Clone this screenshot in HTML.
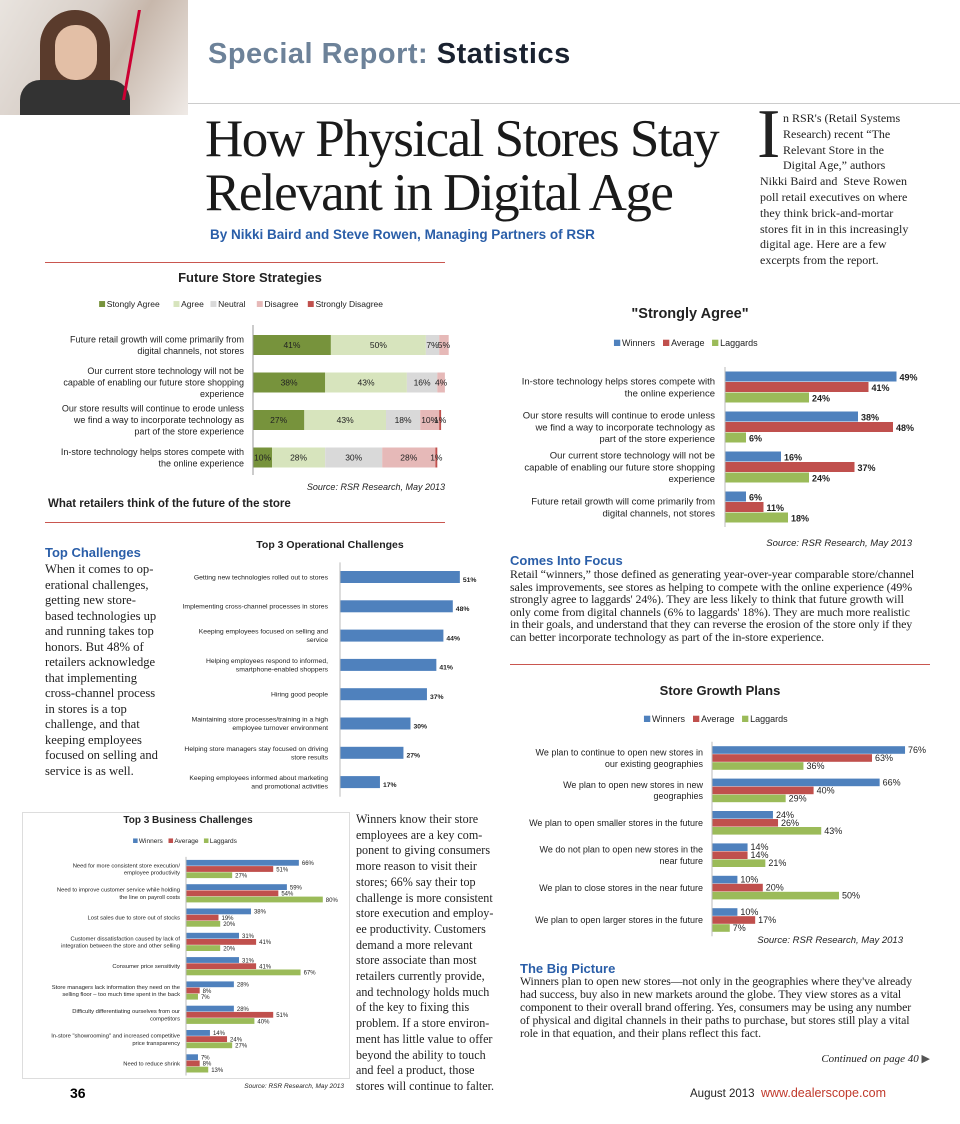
<!DOCTYPE html>
<html><head><meta charset="utf-8">
<style>
body{margin:0;background:#fff}
#page{position:relative;width:960px;height:1124px;overflow:hidden;background:#fff;font-family:"Liberation Sans",sans-serif}
.abs{position:absolute}
.serif{font-family:"Liberation Serif",serif;color:#222;white-space:nowrap}
.hd{font-family:"Liberation Sans",sans-serif;font-weight:bold;color:#2a5ea8;font-size:13px}
.rule{position:absolute;height:1px;background:#c9564f}
svg text{font-family:"Liberation Sans",sans-serif}
</style></head><body>
<div id="page">
<div class="abs" style="left:0;top:0;width:188px;height:115px;background:linear-gradient(120deg,#e9e4df 0%,#d8cfc8 40%,#c7b7ab 60%,#efeae6 100%)">
  <div class="abs" style="left:40px;top:10px;width:70px;height:105px;border-radius:35px 35px 0 0;background:#5a3b2c"></div>
  <div class="abs" style="left:55px;top:25px;width:42px;height:55px;border-radius:20px;background:#e3bfa6"></div>
  <div class="abs" style="left:20px;top:80px;width:110px;height:35px;background:#333;border-radius:20px 20px 0 0"></div>
  <div class="abs" style="left:130px;top:10px;width:50px;height:90px;border-left:3px solid #c03;transform:skewX(-10deg)"></div>
</div>
<div class="abs" style="left:208px;top:38px;font-size:29px;font-weight:bold;letter-spacing:0.5px"><span style="color:#6d8299">Special Report:</span> <span style="color:#1a2230">Statistics</span></div>
<div class="rule" style="left:188px;top:103px;width:772px;background:#ccc"></div>
<div class="abs serif" style="left:205px;top:112px;font-size:53px;line-height:54px;color:#1a1a1a;letter-spacing:-1.5px">How Physical Stores Stay<br>Relevant in Digital Age</div>
<div class="abs hd" style="left:210px;top:227px;font-size:13.5px">By Nikki Baird and Steve Rowen, Managing Partners of RSR</div>
<div class="abs serif" style="left:757px;top:100px;font-size:70px;line-height:70px">I</div>
<div class="abs serif" style="left:760px;top:111px;font-size:12px;line-height:15.8px"><div style="padding-left:23px">n RSR's (Retail Systems<br>Research) recent “The<br>Relevant Store in the<br>Digital Age,” authors</div>Nikki Baird and &nbsp;Steve Rowen<br>poll retail executives on where<br>they think brick-and-mortar<br>stores fit in in this increasingly<br>digital age. Here are a few<br>excerpts from the report.</div>

<div class="rule" style="left:45px;top:262px;width:400px"></div>
<div class="rule" style="left:45px;top:522px;width:400px"></div>
<div class="rule" style="left:510px;top:664px;width:420px"></div>

<div class="abs hd" style="left:45px;top:545px">Top Challenges</div>
<div class="abs serif" style="left:45px;top:562px;font-size:12.6px;line-height:15.5px">When it comes to op-<br>erational challenges,<br>getting new store-<br>based technologies up<br>and running takes top<br>honors. But 48% of<br>retailers acknowledge<br>that implementing<br>cross-channel process<br>in stores is a top<br>challenge, and that<br>keeping employees<br>focused on selling and<br>service is as well.</div>

<div class="abs hd" style="left:510px;top:553px">Comes Into Focus</div>
<div class="abs serif" style="left:510px;top:568px;font-size:11.9px;line-height:12.5px;letter-spacing:-0.1px">Retail “winners,” those defined as generating year-over-year comparable store/channel<br>sales improvements, see stores as helping to compete with the online experience (49%<br>strongly agree to laggards' 24%). They are less likely to think that future growth will<br>only come from digital channels (6% to laggards' 18%). They are much more realistic<br>in their goals, and understand that they can reverse the erosion of the store only if they<br>can better incorporate technology as part of the in-store experience.</div>

<div class="abs hd" style="left:520px;top:961px">The Big Picture</div>
<div class="abs serif" style="left:520px;top:975px;font-size:11.8px;line-height:13px;letter-spacing:-0.1px">Winners plan to open new stores—not only in the geographies where they've already<br>had success, buy also in new markets around the globe. They view stores as a vital<br>component to their overall brand offering. Yes, consumers may be using any number<br>of physical and digital channels in their paths to purchase, but stores still play a vital<br>role in that equation, and their plans reflect this fact.</div>
<div class="abs serif" style="left:780px;top:1052px;width:150px;text-align:right;font-size:11px;font-style:italic">Continued on page 40 <span style="color:#555;font-style:normal">▶</span></div>

<div class="abs serif" style="left:356px;top:812px;font-size:12.1px;line-height:15.7px">Winners know their store<br>employees are a key com-<br>ponent to giving consumers<br>more reason to visit their<br>stores; 66% say their top<br>challenge is more consistent<br>store execution and employ-<br>ee productivity. Customers<br>demand a more relevant<br>store associate than most<br>retailers currently provide,<br>and technology holds much<br>of the key to fixing this<br>problem. If a store environ-<br>ment has little value to offer<br>beyond the ability to touch<br>and feel a product, those<br>stores will continue to falter.</div>

<div class="abs" style="left:22px;top:812px;width:326px;height:265px;border:1px solid #ddd"></div>
<div class="abs" style="left:70px;top:1085px;font-size:14px;font-weight:bold">36</div>
<div class="abs" style="left:690px;top:1086px;font-size:11.5px;color:#222">August 2013 &nbsp;<span style="color:#c0392b;font-size:12.5px">www.dealerscope.com</span></div>

<svg id="charts" class="abs" style="left:0;top:0" width="960" height="1124"></svg>
</div>
<script>
// ---- Future Store Strategies (stacked) ----
const fsCategories=["Future retail growth will come primarily from|digital channels, not stores","Our current store technology will not be|capable of enabling our future store shopping|experience","Our store results will continue to erode unless|we find a way to incorporate technology as|part of the store experience","In-store technology helps stores compete with|the online experience"];
const fsSeries=["Stongly Agree","Agree","Neutral","Disagree","Strongly Disagree"];
const fsStronglyAgree=[41,38,27,10];
const fsAgree=[50,43,43,28];
const fsNeutral=[7,16,18,30];
const fsDisagree=[5,4,10,28];
const fsStronglyDisagree=[0,0,1,1];
// ---- Strongly Agree ----
const saCategories=["In-store technology helps stores compete with|the online experience","Our store results will continue to erode unless|we find a way to incorporate technology as|part of the store experience","Our current store technology will not be|capable of enabling our future store shopping|experience","Future retail growth will come primarily from|digital channels, not stores"];
const saWinners=[49,38,16,6];
const saAverage=[41,48,37,11];
const saLaggards=[24,6,24,18];
// ---- Top 3 Operational Challenges ----
const opCategories=["Getting new technologies rolled out to stores","Implementing cross-channel processes in stores","Keeping employees focused on selling and|service","Helping employees respond to informed,|smartphone-enabled shoppers","Hiring good people","Maintaining store processes/training in a high|employee turnover environment","Helping store managers stay focused on driving|store results","Keeping employees informed about marketing|and promotional activities"];
const opValues=[51,48,44,41,37,30,27,17];
// ---- Store Growth Plans ----
const sgCategories=["We plan to continue to open new stores in|our existing geographies","We plan to open new stores in new|geographies","We plan to open smaller stores in the future","We do not plan to open new stores in the|near future","We plan to close stores in the near future","We plan to open larger stores in the future"];
const sgWinners=[76,66,24,14,10,10];
const sgAverage=[63,40,26,14,20,17];
const sgLaggards=[36,29,43,21,50,7];
// ---- Top 3 Business Challenges ----
const bcCategories=["Need for more consistent store execution/|employee productivity","Need to improve customer service while holding|the line on payroll costs","Lost sales due to store out of stocks","Customer dissatisfaction caused by lack of|integration between the store and other selling","Consumer price sensitivity","Store managers lack information they need on the|selling floor – too much time spent in the back","Difficulty differentiating ourselves from our|competitors","In-store \"showrooming\" and increased competitive|price transparency","Need to reduce shrink"];
const bcWinners=[66,59,38,31,31,28,28,14,7];
const bcAverage=[51,54,19,41,41,8,51,24,8];
const bcLaggards=[27,80,20,20,67,7,40,27,13];

const legendLabels=["Winners","Average","Laggards"];
const C3=["#4f81bd","#c0504d","#9bbb59"];
const C5=["#77933c","#d7e4bd","#d9d9d9","#e6b9b8","#c0504d"];
const svg=document.getElementById('charts');
const NS="http://www.w3.org/2000/svg";
function mk(tag,attrs,parent){const e=document.createElementNS(NS,tag);for(const k in attrs)e.setAttribute(k,attrs[k]);(parent||svg).appendChild(e);return e;}
function txt(x,y,s,size,anchor,parent,extra){const t=mk('text',Object.assign({x:x,y:y,'font-size':size,'text-anchor':anchor||'start',fill:'#222'},extra||{}),parent);t.textContent=s;return t;}
function multiline(x,yc,label,size,lh,g){const lines=label.split('|');const y0=yc-(lines.length-1)*lh/2+size*0.35;lines.forEach((l,i)=>{const t=txt(x,y0+i*lh,l,size,'end',g);});}
function legend(cx,y,labels,colors,size,g){let w=0;const widths=labels.map(l=>l.length*size*0.55+size*1.6);w=widths.reduce((a,b)=>a+b,0);let x=cx-w/2;labels.forEach((l,i)=>{const r=mk('rect',{x:x,y:y-size*0.7,width:size*0.7,height:size*0.7,fill:colors[i]},g);const t=txt(x+size*0.9,y,l,size,'start',g);x+=widths[i];});}
function grouped(o){
  const g=mk('g',{});
  const sx=v=>o.x0+v*o.ppu;
  const tt=txt(o.titleX,o.titleY,o.title,o.titleSize,'middle',g,{'font-weight':'bold'});
  if(o.legendY)legend(o.titleX,o.legendY,legendLabels.slice(0,o.series.length),o.colors,o.legendSize,g);
  const n=o.series.length;
  o.cats.forEach((c,i)=>{
    const gc=o.y0+i*o.gap;
    multiline(o.x0-o.labelPad,gc,c,o.labelSize,o.labelSize*1.25,g);
    o.series.forEach((s,j)=>{
      const y=gc-(n*o.bh+(n-1)*o.bgap)/2+j*(o.bh+o.bgap);
      const r=mk('rect',{x:o.x0,y:y,width:Math.max(0,sx(s[i])-o.x0),height:o.bh,fill:o.colors[j]},g);
      
      const t=txt(sx(s[i])+3,y+o.bh*0.9,s[i]+'%',o.valSize,'start',g,{'font-weight':o.valBold?'bold':'normal'});
      
    });
  });
  mk('line',{x1:o.x0,x2:o.x0,y1:o.y0-o.gap/2,y2:o.y0+(o.cats.length-0.5)*o.gap,stroke:'#bbb'},g);
  if(o.source){const s=txt(o.srcX,o.srcY,'Source: RSR Research, May 2013',o.srcSize,'end',g,{'font-style':'italic'});}
}
// Future Store Strategies stacked
(function(){
  const g=mk('g',{});
  const x0=253,ppu=1.9,y0=345,gap=37.5,bh=20;
  const t=txt(250,282,'Future Store Strategies',13,'middle',g,{'font-weight':'bold'});
  legend(250,307,fsSeries,C5,8.5,g);
  const ser=[fsStronglyAgree,fsAgree,fsNeutral,fsDisagree,fsStronglyDisagree];
  fsCategories.forEach((c,i)=>{
    const yc=y0+i*gap;multiline(244,yc,c,9,11.5,g);
    let acc=0;
    ser.forEach((s,j)=>{const v=s[i];if(!v)return;
      const r=mk('rect',{x:x0+acc*ppu,y:yc-bh/2,width:v*ppu,height:bh,fill:C5[j]},g);
      const lt=txt(x0+(acc+v/2)*ppu,yc+3,v+'%',8.5,'middle',g);
      acc+=v;});
  });
  mk('line',{x1:x0,x2:x0,y1:325,y2:475,stroke:'#999'},g);
  const s=txt(445,490,'Source: RSR Research, May 2013',9,'end',g,{'font-style':'italic'});
  const cap=txt(48,507,'What retailers think of the future of the store',11.5,'start',g,{'font-weight':'bold'});
})();
grouped({name:'strongly-agree-chart',title:'"Strongly Agree"',titleX:690,titleY:318,titleSize:14.5,legendY:346,legendSize:9,cats:saCategories,series:[saWinners,saAverage,saLaggards],colors:C3,x0:725,ppu:3.5,y0:387,gap:40,bh:10,bgap:0.5,labelPad:10,labelSize:9.5,valSize:9,valBold:true,source:true,srcX:912,srcY:546,srcSize:9.5});
grouped({name:'operational-challenges-chart',title:'Top 3 Operational Challenges',titleX:330,titleY:548,titleSize:10.5,cats:opCategories,series:[opValues],colors:[C3[0]],x0:340,ppu:2.35,y0:577,gap:29.3,bh:12,bgap:0,labelPad:12,labelSize:6.8,valSize:6.8,valBold:true});
grouped({name:'store-growth-plans-chart',title:'Store Growth Plans',titleX:720,titleY:695,titleSize:13,legendY:722,legendSize:9,cats:sgCategories,series:[sgWinners,sgAverage,sgLaggards],colors:C3,x0:712,ppu:2.54,y0:758,gap:32.4,bh:7.6,bgap:0.4,labelPad:9,labelSize:9,valSize:9,source:true,srcX:903,srcY:943,srcSize:9.5});
grouped({name:'business-challenges-chart',title:'Top 3 Business Challenges',titleX:188,titleY:823,titleSize:10,legendY:843,legendSize:6.5,cats:bcCategories,series:[bcWinners,bcAverage,bcLaggards],colors:C3,x0:186,ppu:1.71,y0:869,gap:24.3,bh:5.8,bgap:0.4,labelPad:6,labelSize:5.8,valSize:6,valBold:false,source:true,srcX:344,srcY:1088,srcSize:6.5});
</script>
</body></html>
